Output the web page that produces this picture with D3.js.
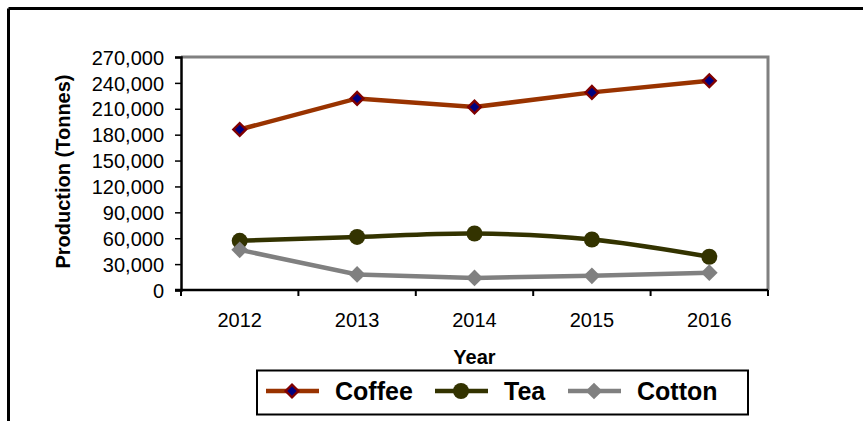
<!DOCTYPE html>
<html>
<head>
<meta charset="utf-8">
<script src="https://cdn.jsdelivr.net/npm/d3@7"></script>
<style>
  html, body { margin: 0; padding: 0; background: #fff; }
  svg { display: block; font-family: "Liberation Sans", Arial, sans-serif; }
</style>
</head>
<body>
<svg id="chart" width="863" height="421"></svg>
<script>
const years = ["2012", "2013", "2014", "2015", "2016"];
const coffee = [186000, 222000, 212000, 229000, 242500];
const tea = [57000, 61500, 65500, 58500, 38500];
const cotton = [46500, 18000, 14000, 16500, 20000];
const yTicks = [0, 30000, 60000, 90000, 120000, 150000, 180000, 210000, 240000, 270000];

const svg = d3.select("#chart");
const W = 863, H = 421;
const plot = { left: 181, right: 768, top: 57, bottom: 290 };
const FF = "'Liberation Sans', Arial, sans-serif";

// outer frame (top and left only visible)
svg.append("line").attr("x1", 8.5).attr("x2", W).attr("y1", 8.5).attr("y2", 8.5)
  .attr("stroke", "#000").attr("stroke-width", 3);
svg.append("line").attr("x1", 8.5).attr("x2", 8.5).attr("y1", 8.5).attr("y2", H)
  .attr("stroke", "#000").attr("stroke-width", 3);

const x = d3.scaleBand().domain(years).range([plot.left, plot.right]);
const y = d3.scaleLinear().domain([0, 270000]).range([plot.bottom, plot.top]);
const cx = d => x(d) + x.bandwidth() / 2;

// plot area gray border (top, right)
svg.append("path")
  .attr("d", `M${plot.left},${plot.top}H${plot.right}V${plot.bottom}`)
  .attr("fill", "none").attr("stroke", "#808080").attr("stroke-width", 3);

// y axis
const yAxis = svg.append("g").attr("transform", `translate(${plot.left},0)`)
  .call(d3.axisLeft(y).tickValues(yTicks).tickSize(6).tickPadding(11)
    .tickFormat(d3.format(",")));
yAxis.attr("font-size", null).attr("font-family", null);
yAxis.select(".domain").attr("stroke", "#000").attr("stroke-width", 2.5);
yAxis.selectAll(".tick line").attr("stroke", "#000").attr("stroke-width", 1.5);
yAxis.selectAll(".tick text").style("font-size", "20px").attr("fill", "#000")
  .style("font-family", FF).attr("dy", "0.36em");

// x axis
const xAxis = svg.append("g").attr("transform", `translate(0,${plot.bottom})`)
  .call(d3.axisBottom(x).tickSize(0).tickPadding(23));
xAxis.attr("font-size", null).attr("font-family", null);
xAxis.select(".domain").remove();
xAxis.append("line").attr("x1", plot.left - 6).attr("x2", plot.right).attr("y1", 0).attr("y2", 0)
  .attr("stroke", "#000").attr("stroke-width", 2.5);
const edges = years.map(d => x(d)).concat([plot.right]);
xAxis.selectAll(".xt").data(edges).enter().append("line")
  .attr("x1", d => d).attr("x2", d => d).attr("y1", 0).attr("y2", 6)
  .attr("stroke", "#000").attr("stroke-width", 2);
xAxis.selectAll(".tick text").style("font-size", "20px").attr("fill", "#000")
  .style("font-family", FF);

// axis titles
svg.append("text").attr("transform", `translate(70,${(68 + 275) / 2}) rotate(-90)`)
  .attr("text-anchor", "middle").style("font-size", "20px").attr("font-weight", "bold")
  .text("Production (Tonnes)");
svg.append("text").attr("x", cx("2014")).attr("y", 364).attr("text-anchor", "middle")
  .style("font-size", "20px").attr("font-weight", "bold").text("Year");

const series = [
  { name: "Coffee", values: coffee, color: "#993300", marker: "diamond", curve: d3.curveLinear },
  { name: "Tea", values: tea, color: "#333300", marker: "circle", curve: d3.curveCatmullRom.alpha(0.5) },
  { name: "Cotton", values: cotton, color: "#808080", marker: "diamondG", curve: d3.curveLinear }
];

function drawMarker(g, type, px, py, color) {
  if (type === "diamond") {
    g.append("path").attr("d", d3.symbol(d3.symbolSquare, 81)())
      .attr("transform", `translate(${px},${py}) rotate(45)`)
      .attr("fill", "#000080").attr("stroke", "#800000").attr("stroke-width", 2.4);
  } else if (type === "circle") {
    g.append("circle").attr("cx", px).attr("cy", py).attr("r", 8).attr("fill", "#333300");
  } else {
    g.append("path").attr("d", d3.symbol(d3.symbolSquare, 140)())
      .attr("transform", `translate(${px},${py}) rotate(45)`)
      .attr("fill", "#808080");
  }
}

series.forEach(s => {
  const line = d3.line().x((d, i) => cx(years[i])).y(d => y(d)).curve(s.curve);
  svg.append("path").datum(s.values).attr("d", line)
    .attr("fill", "none").attr("stroke", s.color).attr("stroke-width", 4.5);
});
series.forEach(s => {
  const g = svg.append("g");
  s.values.forEach((v, i) => drawMarker(g, s.marker, cx(years[i]), y(v), s.color));
});

// legend
const lg = svg.append("g");
lg.append("rect").attr("x", 257).attr("y", 370.5).attr("width", 491).attr("height", 44)
  .attr("fill", "#fff").attr("stroke", "#000").attr("stroke-width", 2);
const legendX = [266, 435, 568];
series.forEach((s, i) => {
  const lx = legendX[i], ly = 391;
  lg.append("line").attr("x1", lx).attr("x2", lx + 53).attr("y1", ly).attr("y2", ly)
    .attr("stroke", s.color).attr("stroke-width", 4.5);
  drawMarker(lg, s.marker, lx + 26, ly, s.color);
  lg.append("text").attr("x", lx + 69).attr("y", ly + 9).style("font-size", "25px")
    .attr("font-weight", "bold").text(s.name);
});
</script>
</body>
</html>
